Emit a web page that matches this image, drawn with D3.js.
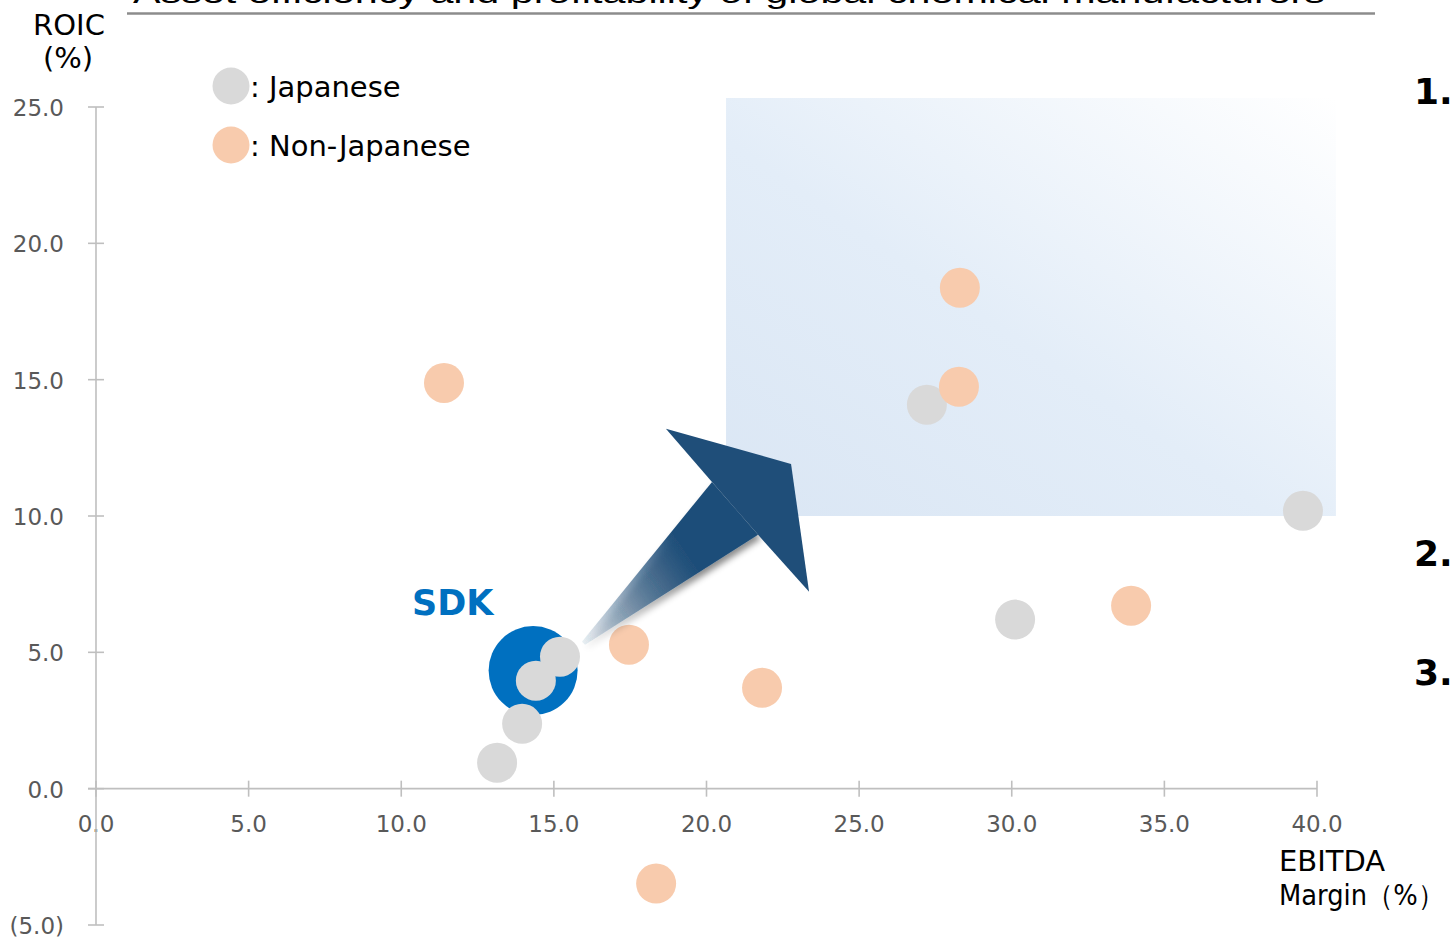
<!DOCTYPE html>
<html><head><meta charset="utf-8">
<script src="https://cdn.jsdelivr.net/npm/d3@7"></script>
<style>html,body{margin:0;padding:0;background:#fff;overflow:hidden}</style>
</head><body>
<svg id="chart" width="1450" height="939"></svg>
<script>
// ---- data ----
const titleText = "Asset efficiency and profitability of global chemical manufacturers";
const xTicks = [0, 5, 10, 15, 20, 25, 30, 35, 40];
const yTicks = [-5, 0, 5, 10, 15, 20, 25];
const japaneseX = [39.54, 30.11, 27.22, 15.20, 14.41, 13.96, 13.14];
const japaneseY = [10.19, 6.20, 14.08, 4.84, 3.96, 2.38, 0.95];
const nonJapaneseX = [11.40, 28.30, 28.27, 33.91, 17.46, 21.82, 18.35];
const nonJapaneseY = [14.88, 18.37, 14.74, 6.71, 5.28, 3.70, -3.48];
const sdkX = 14.32, sdkY = 4.33;
const targetX = [20.64, 40.62], targetY = [10.0, 25.33];
// arrow outline in data units
const arrowShaft = [[15.92,5.39],[20.18,11.25],[21.69,9.31],[16.02,5.28]];
const arrowHead = [[20.18,11.25],[18.67,13.20],[22.77,11.91],[23.36,7.22],[21.69,9.31]];
const sideLabels = ["1.", "2.", "3."];

// ---- scales ----
const svg = d3.select("#chart");
const x = d3.scaleLinear().domain([0, 40]).range([96, 1317]);
const y = d3.scaleLinear().domain([-5, 25]).range([925, 107]);
const FONT = "'DejaVu Sans', Verdana, sans-serif";

const defs = svg.append("defs");
const bg = defs.append("linearGradient").attr("id","boxGrad")
  .attr("x1","0").attr("y1","1").attr("x2","1").attr("y2","0");
bg.append("stop").attr("offset","0").attr("stop-color","#dae6f4");
bg.append("stop").attr("offset","0.45").attr("stop-color","#e3edf8");
bg.append("stop").attr("offset","1").attr("stop-color","#ffffff");

const sg = defs.append("linearGradient").attr("id","shaftGrad").attr("gradientUnits","userSpaceOnUse")
  .attr("x1", x(15.92)).attr("y1", y(5.39)).attr("x2", x(19.6)).attr("y2", y(8.2));
sg.append("stop").attr("offset","0").attr("stop-color","#1f4e79").attr("stop-opacity",0.08);
sg.append("stop").attr("offset","1").attr("stop-color","#1f4e79").attr("stop-opacity",1);

const sh = defs.append("filter").attr("id","shadow").attr("x","-20%").attr("y","-20%").attr("width","150%").attr("height","150%");
sh.append("feDropShadow").attr("dx",3).attr("dy",4).attr("stdDeviation",3).attr("flood-color","#000").attr("flood-opacity",0.45);

defs.append("clipPath").attr("id","plotClip").append("rect")
  .attr("x", 0).attr("y", 0).attr("width", x(40) + 6).attr("height", 939);

// ---- title ----
svg.append("text").attr("x", 133).attr("y", 3).text(titleText)
  .attr("font-family","'Liberation Sans', Arial, sans-serif").attr("font-size", 30)
  .attr("textLength", 1192).attr("lengthAdjust","spacingAndGlyphs").attr("fill","#000");
svg.append("line").attr("x1",127).attr("x2",1375).attr("y1",13.5).attr("y2",13.5)
  .attr("stroke","#8c8c8c").attr("stroke-width",2.5);

// ---- target box ----
svg.append("rect")
  .attr("x", x(targetX[0])).attr("y", y(targetY[1]))
  .attr("width", x(targetX[1]) - x(targetX[0])).attr("height", y(targetY[0]) - y(targetY[1]))
  .attr("fill","url(#boxGrad)");

// ---- axes ----
const axisColor = "#bfbfbf";
const xAxis = svg.append("g").attr("transform", `translate(0,${y(0)})`);
xAxis.append("line").attr("x1", x(0) - 8).attr("x2", x(40)).attr("stroke", axisColor).attr("stroke-width",1.6);
xAxis.selectAll("line.t").data(xTicks).join("line").attr("class","t")
  .attr("x1", d => x(d)).attr("x2", d => x(d)).attr("y1",-8).attr("y2",8)
  .attr("stroke", axisColor).attr("stroke-width",1.6);
xAxis.selectAll("text").data(xTicks).join("text")
  .attr("x", d => x(d)).attr("y", 43).attr("text-anchor","middle")
  .attr("font-family", FONT).attr("font-size", 23).attr("fill","#595959")
  .text(d => d3.format(".1f")(d));

const yAxis = svg.append("g").attr("transform", `translate(${x(0)},0)`);
yAxis.append("line").attr("y1", y(25)).attr("y2", y(-5)).attr("stroke", axisColor).attr("stroke-width",1.6);
yAxis.selectAll("line.t").data(yTicks).join("line").attr("class","t")
  .attr("x1",-8).attr("x2",8).attr("y1", d => y(d)).attr("y2", d => y(d))
  .attr("stroke", axisColor).attr("stroke-width",1.6);
yAxis.selectAll("text").data(yTicks).join("text")
  .attr("x", -32).attr("y", d => y(d) + 9).attr("text-anchor","end")
  .attr("font-family", FONT).attr("font-size", 23).attr("fill","#595959")
  .text(d => d < 0 ? "(" + d3.format(".1f")(-d) + ")" : d3.format(".1f")(d));

// axis titles
svg.append("text").attr("x", 69).attr("y", 35).attr("text-anchor","middle")
  .attr("font-family", FONT).attr("font-size", 29).attr("fill","#000").text("ROIC");
svg.append("text").attr("x", 68).attr("y", 68).attr("text-anchor","middle")
  .attr("font-family", FONT).attr("font-size", 29).attr("fill","#000").text("(%)");
svg.append("text").attr("x", 1279).attr("y", 871)
  .attr("font-family", FONT).attr("font-size", 29).attr("fill","#000").text("EBITDA");
svg.append("text").attr("x", 1279).attr("y", 905)
  .attr("font-family", FONT).attr("font-size", 28.5).attr("fill","#000")
  .attr("textLength", 165).attr("lengthAdjust","spacingAndGlyphs").text("Margin（%）");

// ---- points ----
const pts = svg.append("g").attr("clip-path","url(#plotClip)");
pts.append("circle").attr("cx", x(sdkX)).attr("cy", y(sdkY)).attr("r", 44.5).attr("fill","#0070c0");
pts.selectAll("circle.jp").data(d3.range(japaneseX.length)).join("circle").attr("class","jp")
  .attr("cx", i => x(japaneseX[i])).attr("cy", i => y(japaneseY[i])).attr("r", 20).attr("fill","#d9d9d9");
pts.selectAll("circle.nj").data(d3.range(nonJapaneseX.length)).join("circle").attr("class","nj")
  .attr("cx", i => x(nonJapaneseX[i])).attr("cy", i => y(nonJapaneseY[i])).attr("r", 20).attr("fill","#f8cbad");

svg.append("text").attr("x", x(sdkX) - 121).attr("y", y(sdkY) - 56)
  .attr("font-family", FONT).attr("font-weight","bold").attr("font-size", 35).attr("fill","#0070c0").text("SDK");

// ---- arrow ----
const line = d3.line().x(d => x(d[0])).y(d => y(d[1])).curve(d3.curveLinearClosed);
svg.append("path").attr("d", line(arrowShaft)).attr("fill","url(#shaftGrad)").attr("filter","url(#shadow)");
svg.append("path").attr("d", line(arrowHead)).attr("fill","#1f4e79");

// ---- legend ----
const legend = [["#d9d9d9", ": Japanese", 86], ["#f8cbad", ": Non-Japanese", 145]];
legend.forEach(([c, t, cy]) => {
  svg.append("circle").attr("cx", 231).attr("cy", cy).attr("r", 18.5).attr("fill", c);
  svg.append("text").attr("x", 250).attr("y", cy + 11).attr("font-family", FONT)
    .attr("font-size", 29).attr("fill","#000").text(t);
});

// ---- side numbering ----
const sideY = [104, 566, 685];
svg.selectAll("text.side").data(sideLabels).join("text").attr("class","side")
  .attr("x", 1414).attr("y", (d, i) => sideY[i])
  .attr("font-family", FONT).attr("font-weight","bold").attr("font-size", 36).attr("fill","#000")
  .text(d => d);
</script>
</body></html>
